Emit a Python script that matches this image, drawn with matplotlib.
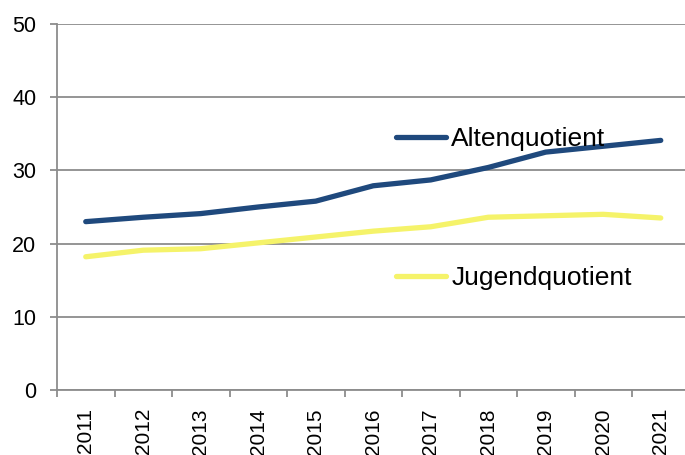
import matplotlib
matplotlib.use("Agg")
import matplotlib.pyplot as plt
from matplotlib.lines import Line2D
from matplotlib.ticker import FixedLocator

years = ["2011", "2012", "2013", "2014", "2015", "2016", "2017", "2018", "2019", "2020", "2021"]
alten = [23.0, 23.6, 24.1, 25.0, 25.8, 27.9, 28.7, 30.4, 32.5, 33.3, 34.1]
jugend = [18.2, 19.1, 19.3, 20.1, 20.9, 21.7, 22.3, 23.6, 23.8, 24.0, 23.5]
yticks = [0, 10, 20, 30, 40, 50]

blue = "#1F497D"
yellow = "#F5F36A"
grey = "#8C8C8C"

plt.rcParams['font.family'] = ['Liberation Sans', 'DejaVu Sans']

W, H = 685, 455
fig = plt.figure(figsize=(W / 100, H / 100), dpi=100)
left, right, top, bottom = 57, 685, 24, 390
ax = fig.add_axes([left / W, 1 - bottom / H, (right - left) / W, (bottom - top) / H])

x = list(range(len(years)))
ax.plot(x, alten, color=blue, lw=3.8, solid_capstyle='round', zorder=3)
ax.plot(x, jugend, color=yellow, lw=3.8, solid_capstyle='round', zorder=3)

step = 57.5
ax.set_xlim(-0.5, -0.5 + (right - left) / step)
ax.set_ylim(0, 50)

ax.set_yticks(yticks)
ax.set_yticklabels([str(v) for v in yticks], fontsize=15.5)
ax.yaxis.grid(True, color=grey, lw=1.3)
ax.set_axisbelow(True)

ax.set_xticks(x)
ax.set_xticklabels(years, rotation=90, fontsize=15, va='top')
ax.tick_params(axis='x', which='major', length=0, pad=13)
ax.xaxis.set_minor_locator(FixedLocator([i - 0.5 for i in range(len(years) + 1)]))
ax.tick_params(axis='x', which='minor', length=5, width=1.3, color=grey)
ax.tick_params(axis='y', length=5, width=1.3, color=grey, pad=10)

for s in ['top', 'right']:
    ax.spines[s].set_visible(False)
for s in ['left', 'bottom']:
    ax.spines[s].set_color(grey)
    ax.spines[s].set_linewidth(1.3)

fs = 19
h1 = [Line2D([], [], color=blue, lw=3.8, solid_capstyle='round')]
h2 = [Line2D([], [], color=yellow, lw=3.8, solid_capstyle='round')]
leg1 = ax.legend(h1, ["Altenquotient"], loc='center left', bbox_to_anchor=(395.5 / W, 1 - 139 / H),
                 bbox_transform=fig.transFigure, frameon=False, fontsize=fs, handlelength=1.9,
                 handletextpad=0.22, borderpad=0, borderaxespad=0)
ax.add_artist(leg1)
ax.legend(h2, ["Jugendquotient"], loc='center left', bbox_to_anchor=(395.5 / W, 1 - 278 / H),
          bbox_transform=fig.transFigure, frameon=False, fontsize=fs, handlelength=1.9,
          handletextpad=0.22, borderpad=0, borderaxespad=0)

fig.savefig("out.png", dpi=100)
